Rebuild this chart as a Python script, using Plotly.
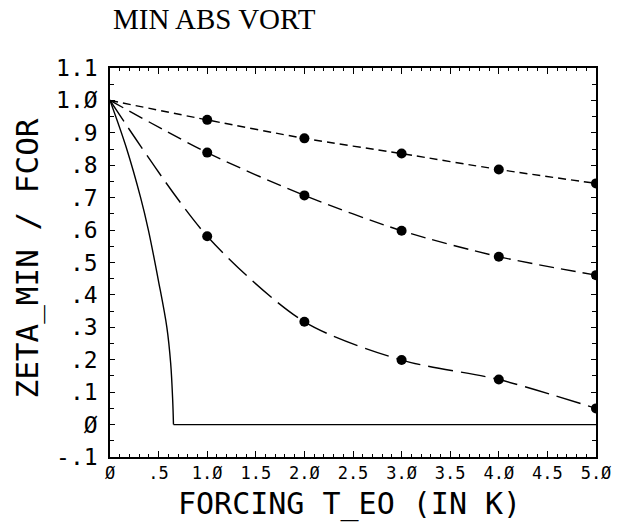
import plotly.graph_objects as go

# Data
forcing = [0, 1, 2, 3, 4, 5]
series_short = [1.0, 0.940, 0.883, 0.836, 0.787, 0.744]
series_medium = [1.0, 0.839, 0.707, 0.598, 0.518, 0.461]
series_long = [1.0, 0.581, 0.317, 0.199, 0.139, 0.050]

solid_curve_x = [0.0, 0.165, 0.315, 0.395, 0.497, 0.585, 0.624, 0.645, 0.653]
solid_curve_y = [1.0, 0.857, 0.700, 0.600, 0.446, 0.300, 0.190, 0.075, 0.0]
solid_flat_x = [0.653, 5.0]
solid_flat_y = [0.0, 0.0]

x_tickvals = [0, 0.5, 1, 1.5, 2, 2.5, 3, 3.5, 4, 4.5, 5]
x_ticktext = ["Ø", ".5", "1.Ø", "1.5", "2.Ø", "2.5", "3.Ø", "3.5", "4.Ø", "4.5", "5.Ø"]
y_tickvals = [-0.1, 0, 0.1, 0.2, 0.3, 0.4, 0.5, 0.6, 0.7, 0.8, 0.9, 1.0, 1.1]
y_ticktext = ["-.1", "Ø", ".1", ".2", ".3", ".4", ".5", ".6", ".7", ".8", ".9", "1.Ø", "1.1"]

MONO = "DejaVu Sans Mono"

fig = go.Figure()

line_w = 1.4
for ys, dash in [(series_short, "8px,5px"), (series_medium, "15px,7px"), (series_long, "25px,8px")]:
    fig.add_trace(go.Scatter(
        x=forcing, y=ys, mode="lines",
        line=dict(color="black", width=line_w, dash=dash, shape="spline", smoothing=0.8),
        showlegend=False, hoverinfo="skip"))
    fig.add_trace(go.Scatter(
        x=forcing[1:], y=ys[1:], mode="markers",
        marker=dict(color="black", size=10),
        showlegend=False))

fig.add_trace(go.Scatter(
    x=solid_curve_x, y=solid_curve_y, mode="lines",
    line=dict(color="black", width=line_w, shape="spline", smoothing=1.0),
    showlegend=False))
fig.add_trace(go.Scatter(
    x=solid_flat_x, y=solid_flat_y, mode="lines",
    line=dict(color="black", width=line_w),
    showlegend=False))

fig.update_xaxes(
    range=[0, 5], showgrid=False, zeroline=False,
    showline=True, linecolor="black", linewidth=1.5, mirror="ticks",
    ticks="inside", ticklen=6, tickcolor="black", tickwidth=1,
    tickvals=x_tickvals, ticktext=x_ticktext,
    tickfont=dict(family=MONO, size=17, color="black"),
    minor=dict(dtick=0.1, ticks="inside", ticklen=3, tickcolor="black", tickwidth=1),
)
fig.update_yaxes(
    range=[-0.1, 1.1], showgrid=False, zeroline=False,
    showline=True, linecolor="black", linewidth=1.5, mirror="ticks",
    ticks="inside", ticklen=5, tickcolor="black", tickwidth=1,
    tickvals=y_tickvals, ticktext=y_ticktext,
    tickfont=dict(family=MONO, size=23, color="black"),
    ticklabelstandoff=6,
    minor=dict(dtick=0.05, ticks="inside", ticklen=4, tickcolor="black", tickwidth=1),
)

fig.update_layout(
    width=623, height=523,
    margin=dict(l=110, r=27, t=68, b=66),
    paper_bgcolor="white", plot_bgcolor="white",
    annotations=[
        dict(text="MIN ABS VORT", xref="paper", yref="paper", x=0, y=1,
             xanchor="left", yanchor="middle", xshift=1, yshift=49, showarrow=False,
             font=dict(family="Liberation Serif", size=29, color="black")),
        dict(text="FORCING T_EO (IN K)", xref="paper", yref="paper", x=0.492, y=0,
             xanchor="center", yanchor="middle", yshift=-47, showarrow=False,
             font=dict(family=MONO, size=30, color="black")),
        dict(text="ZETA_MIN / FCOR", xref="paper", yref="paper", x=0, y=0.5,
             xanchor="center", yanchor="middle", xshift=-83, yshift=4, textangle=-90,
             showarrow=False,
             font=dict(family=MONO, size=31, color="black")),
    ],
)

fig.write_html("out.html")
